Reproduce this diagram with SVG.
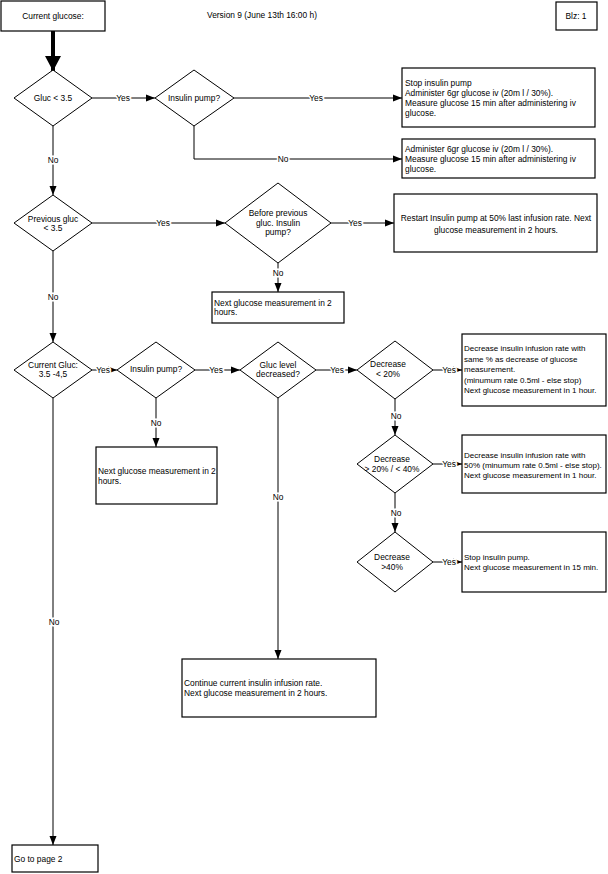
<svg xmlns="http://www.w3.org/2000/svg" width="608" height="874" viewBox="0 0 608 874">
<defs>
<marker id="ah" markerUnits="userSpaceOnUse" markerWidth="10" markerHeight="8" refX="9" refY="4" orient="auto"><path d="M0,0.5 L9,4 L0,7.5 Z" fill="#000"/></marker>
<marker id="big" markerUnits="userSpaceOnUse" markerWidth="16" markerHeight="16" refX="15" refY="8" orient="auto"><path d="M0,0 L15,8 L0,16 Z" fill="#000"/></marker>
<style>
text{font-family:"Liberation Sans",Arial,sans-serif;font-size:8.4px;fill:#000}
.c{text-anchor:middle}
.s{font-size:8px}
.box{fill:#fff;stroke:#000;stroke-width:1.2}
.dia{fill:#fff;stroke:#000;stroke-width:1}
.ln{fill:none;stroke:#000;stroke-width:1;marker-end:url(#ah)}
.lb{text-anchor:middle;stroke:#fff;stroke-width:3;paint-order:stroke}
</style>
</defs>
<rect width="608" height="874" fill="#fff"/>
<g id="connectors">
<path d="M53,31 V71" fill="none" stroke="#000" stroke-width="4" marker-end="url(#big)"/>
<path class="ln" d="M92,98 H155"/>
<path class="ln" d="M234,98 H402"/>
<path class="ln" d="M194,126 V159 H402"/>
<path class="ln" d="M53,126 V195"/>
<path class="ln" d="M92,223 H225"/>
<path class="ln" d="M331,223 H394"/>
<path class="ln" d="M278,263 V292"/>
<path class="ln" d="M53,251 V342"/>
<path class="ln" d="M92,370 H117"/>
<path class="ln" d="M195,370 H240"/>
<path class="ln" d="M316,370 H357"/>
<path class="ln" d="M433,370 H462"/>
<path class="ln" d="M156,398 V447"/>
<path class="ln" d="M395,399 V435"/>
<path class="ln" d="M433,464 H462"/>
<path class="ln" d="M395,493 V532"/>
<path class="ln" d="M433,562 H462"/>
<path class="ln" d="M278,398 V659"/>
<path class="ln" d="M53,398 V845"/>
<text class="lb" x="123" y="101">Yes</text>
<text class="lb" x="316" y="101">Yes</text>
<text class="lb" x="283" y="162">No</text>
<text class="lb" x="53" y="163">No</text>
<text class="lb" x="163" y="226">Yes</text>
<text class="lb" x="355" y="226">Yes</text>
<text class="lb" x="278" y="276">No</text>
<text class="lb" x="53" y="300">No</text>
<text class="lb" x="103" y="373">Yes</text>
<text class="lb" x="216" y="373">Yes</text>
<text class="lb" x="337" y="373">Yes</text>
<text class="lb" x="449" y="373">Yes</text>
<text class="lb" x="156" y="426">No</text>
<text class="lb" x="396" y="419">No</text>
<text class="lb" x="449" y="467">Yes</text>
<text class="lb" x="396" y="516">No</text>
<text class="lb" x="449" y="565">Yes</text>
<text class="lb" x="278" y="500">No</text>
<text class="lb" x="54" y="625">No</text>
</g>
<g id="start"><rect class="box" x="1" y="1" width="104" height="30"/><text class="c" x="53" y="19">Current glucose:</text></g>
<g id="version"><text class="c" x="262" y="18">Version 9 (June 13th 16:00 h)</text></g>
<g id="blz"><rect class="box" x="556" y="2" width="41" height="28"/><text class="c" x="576" y="19">Blz: 1</text></g>
<g id="d1"><path class="dia" d="M53,70 L92,98 L53,126 L14,98 Z"/><text class="c" x="53" y="101">Gluc &lt; 3.5</text></g>
<g id="d2"><path class="dia" d="M194,70 L234,98 L194,126 L155,98 Z"/><text class="c" x="194" y="101">Insulin pump?</text></g>
<g id="b1"><rect class="box" x="402" y="68" width="193" height="59"/>
<text x="405" y="86">Stop insulin pump</text><text x="405" y="96">Administer 6gr glucose iv (20m l / 30%).</text><text x="405" y="106">Measure glucose 15 min after administering iv</text><text x="405" y="116">glucose.</text></g>
<g id="b2"><rect class="box" x="402" y="139" width="193" height="39"/>
<text x="405" y="152">Administer 6gr glucose iv (20m l / 30%).</text><text x="405" y="162">Measure glucose 15 min after administering iv</text><text x="405" y="172">glucose.</text></g>
<g id="d3"><path class="dia" d="M53,195 L92,223 L53,251 L14,223 Z"/><text class="c" x="53" y="222">Previous gluc</text><text class="c" x="53" y="231">&lt; 3.5</text></g>
<g id="d4"><path class="dia" d="M278,183 L331,223 L278,263 L225,223 Z"/><text class="c" x="278" y="216">Before previous</text><text class="c" x="278" y="226">gluc. Insulin</text><text class="c" x="278" y="235">pump?</text></g>
<g id="b3"><rect class="box" x="394" y="194" width="203" height="58"/><text class="c" x="496" y="221">Restart Insulin pump at 50% last infusion rate.  Next</text><text class="c" x="496" y="233">glucose measurement in 2 hours.</text></g>
<g id="b4"><rect class="box" x="212" y="292" width="132" height="31"/><text x="214" y="306">Next glucose measurement in 2</text><text x="214" y="315">hours.</text></g>
<g id="d5"><path class="dia" d="M53,342 L92,370 L53,398 L14,370 Z"/><text class="c" x="53" y="368">Current Gluc:</text><text class="c" x="53" y="377">3.5 -4,5</text></g>
<g id="d6"><path class="dia" d="M156,342 L195,370 L156,398 L117,370 Z"/><text class="c" x="156" y="372">Insulin pump?</text></g>
<g id="d7"><path class="dia" d="M278,342 L316,370 L278,398 L240,370 Z"/><text class="c" x="278" y="368">Gluc level</text><text class="c" x="278" y="377">decreased?</text></g>
<g id="d8"><path class="dia" d="M395,341 L433,370 L395,399 L357,370 Z"/><text class="c" x="388" y="367">Decrease</text><text class="c" x="388" y="377">&lt; 20%</text></g>
<g id="b5"><rect class="box" x="462" y="334" width="144" height="72"/>
<text class="s" x="464" y="351">Decrease insulin infusion rate with</text><text class="s" x="464" y="361.5">same % as decrease of glucose</text><text class="s" x="464" y="372">measurement.</text><text class="s" x="464" y="382.5">(minumum rate 0.5ml - else stop)</text><text class="s" x="464" y="393">Next glucose measurement in 1 hour.</text></g>
<g id="b8"><rect class="box" x="96" y="447" width="121" height="57"/><text x="98" y="474">Next glucose measurement in 2</text><text x="98" y="484">hours.</text></g>
<g id="d9"><path class="dia" d="M395,435 L433,464 L395,493 L357,464 Z"/><text class="c" x="392" y="462">Decrease</text><text class="c" x="392" y="472">&gt; 20% / &lt; 40%</text></g>
<g id="b6"><rect class="box" x="462" y="435" width="144" height="58"/>
<text class="s" x="464" y="458">Decrease insulin infusion rate with</text><text class="s" x="464" y="468">50% (minumum rate 0.5ml - else stop).</text><text class="s" x="464" y="478">Next glucose measurement in 1 hour.</text></g>
<g id="d10"><path class="dia" d="M395,532 L433,562 L395,592 L357,562 Z"/><text class="c" x="392" y="560">Decrease</text><text class="c" x="392" y="570">&gt;40%</text></g>
<g id="b7"><rect class="box" x="462" y="532" width="144" height="60"/><text class="s" x="464" y="560">Stop insulin pump.</text><text class="s" x="464" y="570">Next glucose measurement in 15 min.</text></g>
<g id="b9"><rect class="box" x="182" y="659" width="194" height="58"/><text x="184" y="686">Continue current insulin infusion rate.</text><text x="184" y="696">Next glucose measurement in 2 hours.</text></g>
<g id="b10"><rect class="box" x="12" y="845" width="86" height="27"/><text x="14" y="862">Go to page 2</text></g>
</svg>
